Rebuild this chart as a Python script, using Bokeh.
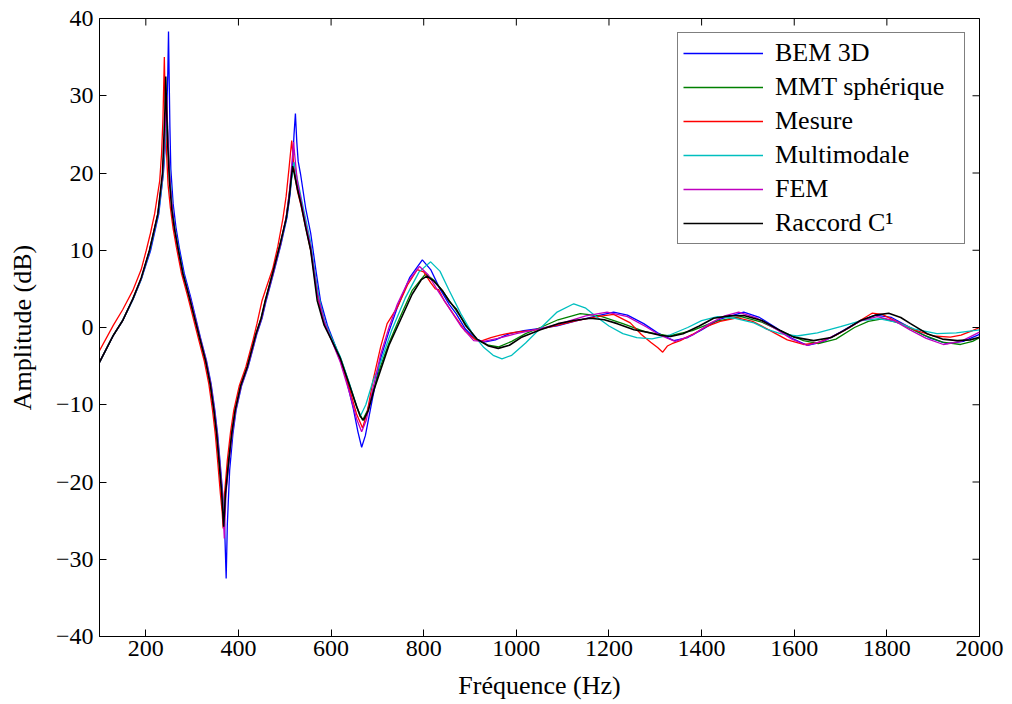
from bokeh.plotting import figure
from bokeh.models import FixedTicker, Legend, LegendItem, Range1d
from bokeh.embed import file_html
from bokeh.resources import INLINE
import math

# ---------------- data ----------------
f_bem = [100, 130, 150, 172, 190, 210, 228, 238, 242, 245.5, 247.5, 249, 250.5, 252, 254, 259, 265, 272, 283, 297,
         318, 331, 341, 349, 355, 360, 366, 370, 373.5, 376, 381, 388, 395, 407, 421, 440, 451, 460, 477, 492,
         505, 512, 517, 520, 523, 526, 529, 534, 545, 556, 567, 577, 592, 610, 630, 648, 658, 666, 674, 682,
         690, 707, 725, 743, 770, 797, 815, 835, 855, 870, 890, 910, 930, 955, 985, 1016, 1052, 1088, 1125, 1160,
         1210, 1240, 1275, 1305, 1340, 1370, 1400, 1440, 1491, 1525, 1560, 1595, 1628, 1660, 1700, 1740, 1775, 1810, 1850, 1890,
         1930, 1965, 2000]
a_bem = [-4.5, -1.0, 0.9, 3.6, 6.2, 9.9, 14.7, 20.0, 23.5, 28.5, 33.0, 38.3, 32.0, 26.0, 20.5, 16.0, 13.0, 10.4, 7.0, 3.9,
         -1.3, -4.3, -7.3, -10.7, -13.8, -17.2, -21.5, -25.5, -32.5, -25.5, -18.5, -13.8, -10.7, -7.5, -5.1, -0.8, 1.2, 3.5, 7.3, 10.8,
         14.3, 17.5, 21.5, 25.0, 27.7, 24.0, 21.5, 19.9, 15.5, 12.2, 7.5, 3.5, 0.3, -2.5, -6.0, -10.5, -13.5, -15.5, -14.0, -11.5,
         -9.0, -4.0, -0.5, 2.6, 6.5, 8.76, 7.5, 5.0, 3.0, 1.8, -0.2, -1.4, -1.9, -1.6, -0.8, -0.4, -0.1, 0.2, 0.8, 1.3,
         2.0, 1.6, 0.5, -0.7, -1.7, -1.3, -0.3, 1.1, 2.0, 1.3, 0.0, -1.4, -2.3, -1.9, -0.6, 0.8, 1.6, 1.3, 0.0, -1.3,
         -2.1, -1.8, -0.9]

f_mmt = [100, 130, 150, 172, 190, 208, 226, 236, 240, 244.5, 248, 252, 258, 269, 280, 294, 316, 329, 339, 347,
         353, 358, 364, 368.5, 372, 379, 386, 393, 405, 419, 438, 449, 458, 475, 490, 503, 510, 518, 523, 530,
         538, 548, 558, 572, 587, 602, 622, 642, 657, 668, 678, 693, 707, 725, 750, 775, 804, 822, 840, 870,
         915, 940, 962, 990, 1020, 1052, 1090, 1138, 1180, 1230, 1280, 1330, 1380, 1430, 1485, 1530, 1580, 1620, 1652, 1690,
         1730, 1760, 1793, 1830, 1880, 1920, 1959, 1985, 2000]
a_mmt = [-4.5, -1.0, 0.9, 3.7, 6.3, 10.0, 14.7, 19.5, 23.5, 28.5, 23.5, 19.0, 14.8, 10.4, 7.0, 3.9, -1.3, -4.3, -7.3, -10.7,
         -13.8, -17.2, -21.5, -25.0, -21.3, -17.2, -13.5, -10.7, -7.5, -5.1, -0.8, 1.2, 3.5, 7.3, 10.8, 14.1, 17.5, 21.0, 19.6, 17.5,
         15.3, 12.5, 9.5, 4.3, 0.5, -1.5, -4.2, -7.8, -10.5, -12.0, -10.8, -7.8, -5.0, -2.0, 1.5, 4.8, 6.95, 6.1, 4.8, 2.2,
         -1.6, -2.3, -2.5, -1.8, -0.8, 0.0, 1.0, 1.8, 1.5, 0.5, -0.6, -1.1, -0.4, 0.8, 1.4, 0.7, -0.7, -1.7, -2.1, -1.5,
         0.0, 0.8, 1.15, 0.5, -1.0, -1.9, -2.2, -1.8, -1.33]

f_mes = [100, 130, 150, 172, 190, 201, 210, 219, 230, 234, 237, 240, 242, 244.5, 248, 253, 259, 266, 277, 291,
         313, 326, 336, 344, 350, 355, 361, 365, 367, 370, 376, 383, 390, 402, 416, 432, 440, 451, 462, 474,
         485, 496, 503, 509, 515, 518, 522, 528, 535, 545, 556, 568, 582, 600, 620, 640, 655, 668, 678, 690,
         707, 721, 743, 765, 786, 800, 815, 825, 832, 845, 868, 890, 910, 922, 945, 965, 980, 1000, 1030, 1052,
         1090, 1130, 1175, 1210, 1246, 1270, 1290, 1305, 1316, 1326, 1336, 1354, 1380, 1410, 1440, 1477, 1510, 1545, 1585, 1620,
         1650, 1690, 1720, 1745, 1768, 1790, 1820, 1860, 1900, 1937, 1960, 1985, 2000]
a_mes = [-3.0, 0.3, 2.3, 4.8, 7.5, 10.0, 12.2, 14.7, 19.0, 22.5, 27.0, 35.0, 28.5, 23.0, 18.5, 15.5, 12.8, 10.4, 7.0, 3.9,
         -1.3, -4.3, -7.3, -10.7, -13.8, -17.2, -21.5, -24.0, -26.0, -21.5, -17.2, -13.5, -10.7, -7.5, -5.1, -1.5, 0.5, 3.5, 5.5, 7.6,
         10.5, 14.1, 17.0, 20.5, 24.2, 22.0, 19.5, 17.5, 15.8, 13.0, 10.0, 5.0, 1.0, -1.5, -4.3, -8.0, -11.2, -13.0, -11.0, -7.0,
         -2.5, 0.5, 2.6, 5.5, 7.5, 7.2, 5.8, 5.0, 4.9, 3.4, 1.4, -0.5, -1.5, -1.8, -1.3, -1.0, -0.8, -0.6, -0.4, -0.2,
         0.3, 0.9, 1.4, 1.7, 0.6, -0.9, -1.9, -2.6, -3.2, -2.4, -2.1, -1.7, -0.9, 0.1, 0.8, 1.25, 0.8, -0.3, -1.6, -2.2,
         -2.0, -1.0, 0.0, 1.0, 1.85, 1.7, 0.8, -0.3, -1.1, -1.25, -1.0, -0.4, 0.0]

f_mm = [100, 130, 150, 172, 190, 209, 227, 236, 241, 246, 249, 253, 260, 270, 281, 295, 317, 330, 340, 348,
        354, 359, 365, 369, 373, 380, 387, 394, 406, 420, 439, 450, 459, 476, 491, 504, 512, 520, 525, 532,
        540, 556, 570, 585, 600, 620, 640, 655, 663, 675, 690, 707, 730, 760, 790, 815, 835, 855, 880, 905,
        930, 950, 969, 990, 1020, 1052, 1088, 1124, 1150, 1175, 1200, 1230, 1260, 1293, 1330, 1370, 1400, 1434, 1470, 1513,
        1540, 1570, 1606, 1650, 1700, 1745, 1782, 1820, 1860, 1908, 1950, 2000]
a_mm = [-4.5, -1.0, 0.9, 3.6, 6.2, 10.0, 14.7, 19.0, 23.0, 27.5, 23.0, 19.0, 14.0, 10.4, 7.0, 3.9, -1.3, -4.3, -7.3, -10.7,
        -13.8, -17.2, -21.5, -25.0, -21.0, -17.2, -13.5, -10.7, -7.5, -5.1, -0.8, 1.2, 3.5, 7.3, 10.8, 14.3, 18.0, 21.4, 19.8, 17.8,
        15.5, 11.0, 5.0, 1.0, -1.2, -3.8, -7.3, -10.2, -11.5, -10.0, -7.0, -4.5, -0.5, 3.8, 7.2, 8.5, 7.3, 4.8, 1.8, -0.8,
        -2.6, -3.6, -4.05, -3.6, -2.0, -0.1, 2.0, 3.07, 2.5, 1.3, 0.2, -0.8, -1.3, -1.47, -1.0, 0.0, 0.9, 1.4, 1.2, 0.6,
        -0.2, -0.8, -1.1, -0.7, 0.1, 0.9, 1.15, 0.7, -0.2, -0.8, -0.7, -0.3]

f_fem = [100, 130, 150, 172, 190, 208, 226, 236, 240, 243, 245, 247, 250, 253, 260, 269, 280, 295, 317, 330,
         340, 348, 354, 359, 365, 369.5, 373, 380, 387, 394, 406, 420, 439, 450, 459, 476, 491, 503, 510, 515,
         519, 522, 527, 535, 545, 556, 570, 585, 600, 620, 640, 655, 666, 676, 690, 707, 725, 743, 765, 791,
         810, 830, 855, 880, 908, 930, 960, 1000, 1052, 1100, 1150, 1196, 1240, 1280, 1310, 1343, 1380, 1420, 1450, 1480,
         1520, 1560, 1595, 1628, 1665, 1710, 1745, 1779, 1815, 1850, 1885, 1922, 1960, 2000]
a_fem = [-4.5, -1.0, 0.9, 3.7, 6.3, 10.0, 14.7, 19.5, 23.5, 27.5, 30.0, 26.0, 21.5, 18.3, 13.8, 10.4, 7.0, 3.9, -1.3, -4.3,
         -7.3, -10.7, -13.8, -17.2, -21.5, -27.3, -21.5, -17.2, -13.5, -10.7, -7.5, -5.1, -0.8, 1.2, 3.5, 7.3, 10.8, 14.3, 17.5, 21.0,
         24.0, 22.0, 19.0, 16.5, 13.5, 10.5, 4.5, 0.8, -1.5, -4.5, -8.5, -11.8, -13.5, -12.0, -8.0, -3.5, 0.0, 3.0, 5.8, 7.9,
         6.8, 4.8, 2.5, 0.2, -1.7, -1.8, -1.4, -0.8, -0.15, 0.6, 1.5, 2.0, 1.4, 0.1, -1.0, -1.8, -1.0, 0.6, 1.5, 2.0,
         1.2, -0.2, -1.5, -2.33, -1.7, -0.3, 0.9, 1.4, 0.9, -0.3, -1.4, -2.2, -1.8, -0.6]

f_rac = [100, 130, 150, 172, 190, 208, 226, 236, 239, 241.5, 243, 245, 247.5, 251, 256, 262, 269, 280, 294, 316,
         329, 339, 347, 353, 358, 364, 368, 372, 379, 386, 393, 405, 419, 438, 449, 458, 475, 490, 503, 509,
         514, 517, 521, 527, 535, 545, 556, 570, 585, 600, 620, 640, 655, 663, 670, 680, 693, 707, 725, 750,
         775, 795, 807, 822, 840, 855, 870, 890, 915, 940, 961, 985, 1010, 1052, 1090, 1124, 1160, 1190, 1218, 1254,
         1282, 1310, 1333, 1360, 1395, 1426, 1460, 1491, 1530, 1570, 1599, 1642, 1680, 1707, 1743, 1775, 1804, 1830, 1851, 1887,
         1920, 1952, 1980, 2000]
a_rac = [-4.5, -1.0, 0.9, 3.7, 6.4, 10.0, 14.7, 20.0, 24.5, 28.5, 32.5, 28.0, 23.5, 19.0, 15.3, 12.7, 10.4, 7.0, 3.9, -1.3,
         -4.3, -7.3, -10.7, -13.8, -17.2, -21.5, -25.8, -21.5, -17.2, -13.5, -10.7, -7.5, -5.1, -0.8, 1.2, 3.5, 7.3, 10.8, 14.1, 16.5,
         19.3, 20.9, 19.8, 18.0, 16.0, 13.0, 10.0, 3.5, 0.3, -1.5, -4.0, -7.5, -10.2, -11.5, -12.0, -10.8, -8.0, -5.5, -2.3, 1.0,
         4.3, 6.2, 6.65, 6.0, 4.8, 3.4, 2.4, 0.3, -1.5, -2.4, -2.7, -2.3, -1.3, -0.3, 0.5, 0.9, 1.2, 1.0, 0.5, -0.3,
         -0.6, -1.0, -1.16, -0.8, 0.2, 1.2, 1.5, 1.55, 0.9, -0.4, -1.25, -1.7, -1.3, -0.4, 0.9, 1.6, 1.85, 1.3, 0.5, -0.8,
         -1.5, -1.7, -1.6, -1.25]

labels = ["BEM 3D", "MMT sphérique", "Mesure", "Multimodale", "FEM", "Raccord C¹"]
x_ticks = [200, 400, 600, 800, 1000, 1200, 1400, 1600, 1800, 2000]
y_ticks = [-40, -30, -20, -10, 0, 10, 20, 30, 40]
x_lim = (100, 2000)
y_lim = (-40, 40)

series = [(f_bem, a_bem, "#0000FF", 1.3),
          (f_mmt, a_mmt, "#008000", 1.3),
          (f_mes, a_mes, "#FF0000", 1.3),
          (f_mm, a_mm, "#00BFBF", 1.3),
          (f_fem, a_fem, "#BF00BF", 1.3),
          (f_rac, a_rac, "#000000", 1.6)]

FONT = "Liberation Serif"

p = figure(frame_width=880, frame_height=618, output_backend="svg", toolbar_location=None,
           x_range=Range1d(*x_lim), y_range=Range1d(*y_lim),
           min_border_left=99, min_border_right=31, min_border_top=18, min_border_bottom=68,
           x_axis_label="Fréquence (Hz)", y_axis_label="Amplitude (dB)")
p.xgrid.visible = False
p.ygrid.visible = False
p.outline_line_color = "black"
p.outline_line_width = 1
p.background_fill_color = "white"
p.border_fill_color = "white"

items = []
for (fx, ay, col, lw), lab in zip(series, labels):
    r = p.line(fx, ay, line_color=col, line_width=lw)
    items.append(LegendItem(label=lab, renderers=[r]))

# inward ticks on the top and right edges of the box (MATLAB "box on")
p.scatter(x=x_ticks, y=[y_lim[1]] * len(x_ticks), marker="dash", size=14, angle=math.pi / 2,
          line_color="black", line_width=1)
p.scatter(x=[x_lim[1]] * len(y_ticks), y=y_ticks, marker="dash", size=14,
          line_color="black", line_width=1)

for ax in p.xaxis + p.yaxis:
    ax.major_tick_in = 7
    ax.major_tick_out = 0
    ax.minor_tick_line_color = None
    ax.axis_line_color = "black"
    ax.major_tick_line_color = "black"
    ax.major_label_text_font = FONT
    ax.major_label_text_font_size = "24px"
    ax.major_label_text_color = "black"
    ax.axis_label_text_font = FONT
    ax.axis_label_text_font_size = "26px"
    ax.axis_label_text_font_style = "normal"
    ax.axis_label_text_color = "black"

p.xaxis.ticker = FixedTicker(ticks=x_ticks)
p.yaxis.ticker = FixedTicker(ticks=y_ticks)
p.yaxis.major_label_overrides = {t: (("\u2212" + str(abs(t))) if t < 0 else str(t)) for t in y_ticks}
p.xaxis.major_label_standoff = 4
p.yaxis.major_label_standoff = 6
p.xaxis.axis_label_standoff = 12
p.yaxis.axis_label_standoff = 16

legend = Legend(items=items, location="top_right")
legend.label_text_font = FONT
legend.label_text_font_size = "26px"
legend.label_text_color = "black"
legend.border_line_color = "black"
legend.border_line_width = 1
legend.padding = 5
legend.spacing = 4
legend.margin = 14
legend.glyph_width = 80
legend.glyph_height = 28
legend.label_height = 28
legend.label_width = 184
legend.label_standoff = 12
legend.background_fill_alpha = 1
p.add_layout(legend)

open("out.html", "w").write(file_html(p, INLINE))
